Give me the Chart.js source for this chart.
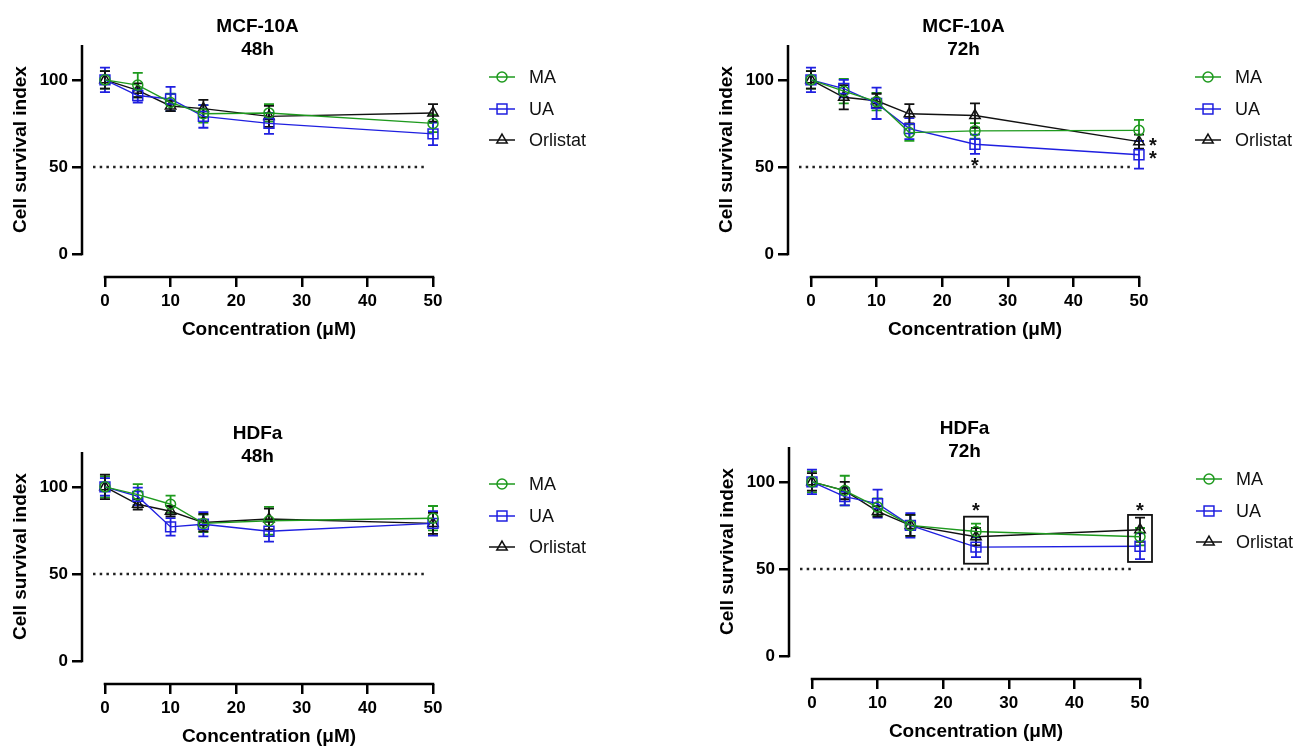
<!DOCTYPE html>
<html>
<head>
<meta charset="utf-8">
<script src="https://cdn.jsdelivr.net/npm/chart.js@4.4.1/dist/chart.umd.min.js"></script>
<style>
  body { margin: 0; background: #fff; width: 1299px; height: 749px; overflow: hidden; position: relative; }
  canvas { position: absolute; }
</style>
</head>
<body>
<canvas id="mcf48" width="593" height="342" style="left:0;top:0"></canvas>
<canvas id="mcf72" width="593" height="342" style="left:706px;top:0"></canvas>
<canvas id="hdf48" width="593" height="342" style="left:0;top:407px"></canvas>
<canvas id="hdf72" width="593" height="342" style="left:707px;top:402px"></canvas>
<script>
//------------------Data------------------
const conc = [0, 5, 10, 15, 25, 50];
const xTicks = [0, 10, 20, 30, 40, 50];
const yTicks = [0, 50, 100];
const seriesNames = ['MA', 'UA', 'Orlistat'];

// MCF-10A 48h
const mcf48MA = [100, 97, 87, 80.5, 81, 75];
const mcf48MAErr = [5, 7, 5, 5, 5, 5];
const mcf48UA = [100, 91, 89, 79, 75, 69];
const mcf48UAErr = [7, 4, 7, 6.5, 6, 6.5];
const mcf48Orl = [100, 94, 85, 83.5, 79, 81];
const mcf48OrlErr = [5, 4, 3, 5, 6, 5];

// MCF-10A 72h
const mcf72MA = [100, 93.5, 87.5, 69.7, 70.7, 71];
const mcf72MAErr = [5, 7, 5, 4.7, 4.5, 6];
const mcf72UA = [100, 95, 86.5, 72, 63, 57];
const mcf72UAErr = [7, 5, 9, 6, 5.5, 8];
const mcf72Orl = [100, 90, 88, 80.5, 79.5, 64.5];
const mcf72OrlErr = [5, 7, 4, 5.5, 7, 4];

// HDFa 48h
const hdf48MA = [100, 95.5, 90, 79, 80.5, 82];
const hdf48MAErr = [6, 6, 5, 5, 8, 7];
const hdf48UA = [100, 94.5, 77, 78.5, 74.5, 79];
const hdf48UAErr = [5, 5, 5, 7, 6, 7];
const hdf48Orl = [100, 90, 86, 79.5, 81.5, 79];
const hdf48OrlErr = [7, 3, 3, 5, 6, 6];

// HDFa 72h
const hdf72MA = [100, 95, 85.5, 75, 71.5, 68.5];
const hdf72MAErr = [6, 8.5, 5, 6, 4.5, 5];
const hdf72UA = [100, 91.5, 87.5, 75, 62.5, 63];
const hdf72UAErr = [7, 5, 8, 7, 5.7, 7.4];
const hdf72Orl = [100, 95, 83, 75, 68.5, 72.5];
const hdf72OrlErr = [5, 5, 3, 6, 5, 7];

// significance marks (value coords)
const mcf72Stars = [{ x: 25, y: 53, dx: 0 }, { x: 50, y: 64.5, dx: 14 }, { x: 50, y: 57, dx: 14 }];
const hdf72Stars = [{ x: 25, y: 86, dx: 0 }, { x: 50, y: 86, dx: 0 }];
const hdf72Boxes = [{ x: 25, lo: 53, hi: 80 }, { x: 50, lo: 54, hi: 81 }];

//------------------Styles------------------
const FONT = 'Arial, "Liberation Sans", Helvetica, sans-serif';
const GREEN = '#1e9a1e';
const BLUE = '#1f1fe0';
const BLACK = '#111111';
const styles = [
  { color: GREEN, pointStyle: 'circle', radius: 5 },
  { color: BLUE, pointStyle: 'rect', radius: 7 },
  { color: BLACK, pointStyle: 'triangle', radius: 6 },
];

const toPoints = (vals) => vals.map((v, i) => ({ x: conc[i], y: v }));

//------------------Plugin: axes, error bars, titles, legend, marks------------------
const panelPlugin = {
  id: 'panelPlugin',
  beforeDatasetsDraw(chart) {
    const { ctx, scales: { x, y } } = chart;
    ctx.save();
    // dotted 50% line
    ctx.strokeStyle = '#222';
    ctx.lineWidth = 2.5;
    ctx.setLineDash([2.5, 4.2]);
    ctx.beginPath();
    ctx.moveTo(chart.chartArea.left + 11, y.getPixelForValue(50));
    ctx.lineTo(x.getPixelForValue(50) - 5, y.getPixelForValue(50));
    ctx.stroke();
    ctx.setLineDash([]);
    // error bars
    chart.data.datasets.forEach((ds) => {
      ctx.strokeStyle = ds.borderColor;
      ctx.lineWidth = 1.8;
      ds.data.forEach((p, i) => {
        const e = ds.err[i];
        const px = x.getPixelForValue(p.x);
        const top = y.getPixelForValue(p.y + e);
        const bot = y.getPixelForValue(p.y - e);
        ctx.beginPath();
        ctx.moveTo(px, top); ctx.lineTo(px, bot);
        ctx.moveTo(px - 5, top); ctx.lineTo(px + 5, top);
        ctx.moveTo(px - 5, bot); ctx.lineTo(px + 5, bot);
        ctx.stroke();
      });
    });
    ctx.restore();
  },
  afterDraw(chart, args, opts) {
    const { ctx, chartArea, scales: { x, y } } = chart;
    ctx.save();
    // axis lines
    ctx.strokeStyle = '#000';
    ctx.lineWidth = 2.5;
    ctx.beginPath();
    ctx.moveTo(chartArea.left, y.getPixelForValue(0) + 1.25);
    ctx.lineTo(chartArea.left, y.getPixelForValue(120));
    ctx.moveTo(x.getPixelForValue(0) - 1.25, chartArea.bottom);
    ctx.lineTo(x.getPixelForValue(50) + 1.25, chartArea.bottom);
    ctx.stroke();

    // titles
    ctx.fillStyle = '#000';
    ctx.textAlign = 'center';
    ctx.textBaseline = 'middle';
    ctx.font = 'bold 19px ' + FONT;
    const cx = (chartArea.left + chartArea.right) / 2;
    ctx.fillText(opts.title[0], cx, chartArea.top - 18);
    ctx.fillText(opts.title[1], cx, chartArea.top + 5);
    ctx.fillText('Concentration (\u03BCM)', (x.getPixelForValue(0) + x.getPixelForValue(50)) / 2, chartArea.bottom + 53);
    ctx.save();
    ctx.translate(21, (y.getPixelForValue(0) + y.getPixelForValue(120)) / 2);
    ctx.rotate(-Math.PI / 2);
    ctx.fillText('Cell survival index', 0, 0);
    ctx.restore();

    // legend
    const rows = [32, 64, 95];
    seriesNames.forEach((name, i) => {
      const st = styles[i];
      const ly = chartArea.top + rows[i];
      const lx = chartArea.right + 56;
      ctx.strokeStyle = st.color;
      ctx.lineWidth = 1.5;
      ctx.beginPath();
      ctx.moveTo(lx, ly); ctx.lineTo(lx + 26, ly);
      ctx.stroke();
      ctx.fillStyle = 'rgba(0,0,0,0)';
      Chart.helpers.drawPoint(ctx, { pointStyle: st.pointStyle, radius: st.radius, borderWidth: 1.5, rotation: 0 }, lx + 13, ly);
      ctx.fillStyle = '#111';
      ctx.textAlign = 'left';
      ctx.font = '18px ' + FONT;
      ctx.fillText(name, chartArea.right + 96, ly + 1);
    });

    // significance boxes and stars
    ctx.strokeStyle = '#111';
    ctx.lineWidth = 1.8;
    (opts.boxes || []).forEach((b) => {
      const px = x.getPixelForValue(b.x);
      const t = y.getPixelForValue(b.hi);
      const bt = y.getPixelForValue(b.lo);
      ctx.strokeRect(px - 12, t, 24, bt - t);
    });
    ctx.fillStyle = '#111';
    ctx.textAlign = 'center';
    ctx.font = 'bold 20px ' + FONT;
    (opts.stars || []).forEach((s) => {
      ctx.fillText('*', x.getPixelForValue(s.x) + s.dx, y.getPixelForValue(s.y) + 5);
    });
    ctx.restore();
  },
};

//------------------Build one panel------------------
const makePanel = (id, title, series, stars, boxes) => {
  const datasets = series.map(([vals, err], i) => ({
    label: seriesNames[i],
    data: toPoints(vals),
    err: err,
    borderColor: styles[i].color,
    backgroundColor: 'rgba(0,0,0,0)',
    borderWidth: 1.4,
    pointStyle: styles[i].pointStyle,
    pointRadius: styles[i].radius,
    pointBorderWidth: 1.5,
    pointBackgroundColor: 'rgba(0,0,0,0)',
    pointBorderColor: styles[i].color,
    tension: 0,
    clip: false,
  }));

  const tickFont = { family: FONT, size: 17, weight: 'bold' };

  return new Chart(document.getElementById(id), {
    type: 'line',
    data: { datasets },
    options: {
      responsive: false,
      animation: false,
      events: [],
      layout: { padding: { left: 0, top: 45, right: 160, bottom: 0 } },
      plugins: {
        legend: { display: false },
        tooltip: { enabled: false },
        panelPlugin: { title, stars, boxes },
      },
      scales: {
        x: {
          type: 'linear',
          min: -3.5,
          max: 50,
          afterBuildTicks: (s) => { s.ticks = xTicks.map((v) => ({ value: v })); },
          afterFit: (s) => { s.height = 65; },
          grid: { drawOnChartArea: false, drawTicks: true, tickLength: 10, color: '#000', lineWidth: 2.5 },
          border: { display: false },
          ticks: { color: '#000', font: tickFont, padding: 4, maxRotation: 0, autoSkip: false },
        },
        y: {
          type: 'linear',
          min: -13.2,
          max: 120,
          afterBuildTicks: (s) => { s.ticks = yTicks.map((v) => ({ value: v })); },
          afterFit: (s) => { s.width = 82; },
          grid: { drawOnChartArea: false, drawTicks: true, tickLength: 10, color: '#000', lineWidth: 2.5 },
          border: { display: false },
          ticks: { color: '#000', font: tickFont, padding: 4, autoSkip: false },
        },
      },
    },
    plugins: [panelPlugin],
  });
};

makePanel('mcf48', ['MCF-10A', '48h'],
  [[mcf48MA, mcf48MAErr], [mcf48UA, mcf48UAErr], [mcf48Orl, mcf48OrlErr]], [], []);
makePanel('mcf72', ['MCF-10A', '72h'],
  [[mcf72MA, mcf72MAErr], [mcf72UA, mcf72UAErr], [mcf72Orl, mcf72OrlErr]], mcf72Stars, []);
makePanel('hdf48', ['HDFa', '48h'],
  [[hdf48MA, hdf48MAErr], [hdf48UA, hdf48UAErr], [hdf48Orl, hdf48OrlErr]], [], []);
makePanel('hdf72', ['HDFa', '72h'],
  [[hdf72MA, hdf72MAErr], [hdf72UA, hdf72UAErr], [hdf72Orl, hdf72OrlErr]], hdf72Stars, hdf72Boxes);
</script>
</body>
</html>
